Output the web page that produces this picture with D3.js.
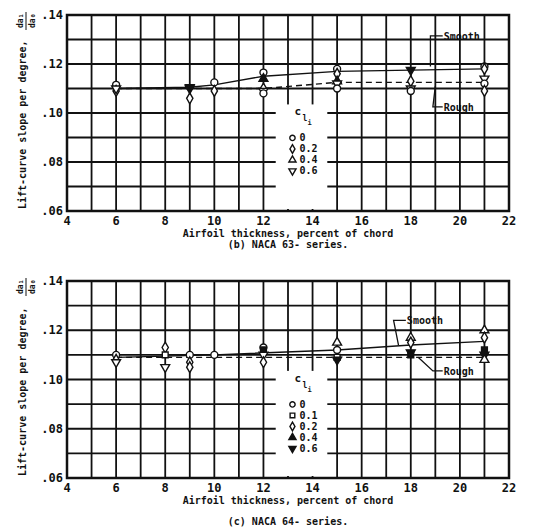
<!DOCTYPE html>
<html><head><meta charset="utf-8">
<script src="https://cdn.jsdelivr.net/npm/d3@7"></script>
<style>body{margin:0;background:#fff}text{font-family:"DejaVu Sans Mono",monospace;font-weight:bold;fill:#111}</style>
</head><body>
<script>
var xTicks = [4, 6, 8, 10, 12, 14, 16, 18, 20, 22];
var yTicks = [0.06, 0.08, 0.10, 0.12, 0.14];
var yTickLabels = [".06", ".08", ".10", ".12", ".14"];

// 63-series points: [thickness, slope, symbol]
var pts63 = [
  [6,.1115,"o"],[6,.109,"d"],[6,.110,"v"],
  [9,.106,"d"],[9,.110,"v"],[9,.1105,"V"],
  [10,.1125,"o"],[10,.109,"d"],
  [12,.1165,"o"],[12,.114,"A"],[12,.110,"d"],[12,.109,"v"],[12,.108,"o"],
  [15,.118,"o"],[15,.116,"d"],[15,.113,"A"],[15,.112,"v"],[15,.110,"o"],
  [18,.1175,"V"],[18,.113,"d"],[18,.110,"v"],[18,.109,"o"],
  [21,.119,"o"],[21,.118,"d"],[21,.114,"v"],[21,.112,"o"],[21,.109,"d"]
];
var smooth63 = [[6,.110],[9,.1105],[10,.1115],[12,.115],[15,.117],[18,.1175],[21,.118]];
var rough63 = [[6,.110],[12,.110],[15,.1125],[18,.1125],[21,.1125]];
var legend63 = ["0", "0.2", "0.4", "0.6"];
var legSym63 = ["o", "d", "a", "v"];

// 64-series points
var pts64 = [
  [6,.110,"o"],[6,.108,"d"],[6,.107,"v"],
  [8,.113,"d"],[8,.110,"s"],[8,.105,"v"],
  [9,.110,"o"],[9,.107,"d"],[9,.105,"d"],
  [10,.110,"o"],
  [12,.113,"o"],[12,.112,"S"],[12,.110,"v"],[12,.107,"d"],
  [15,.115,"a"],[15,.112,"o"],[15,.109,"s"],[15,.108,"V"],
  [18,.117,"a"],[18,.115,"d"],[18,.111,"V"],[18,.110,"S"],
  [21,.120,"a"],[21,.117,"d"],[21,.112,"S"],[21,.110,"V"],[21,.108,"a"]
];
var smooth64 = [[6,.109],[10,.110],[15,.112],[18,.114],[21,.1155]];
var rough64 = [[6,.109],[21,.109]];
var legend64 = ["0", "0.1", "0.2", "0.4", "0.6"];
var legSym64 = ["o", "s", "d", "A", "V"];

var svg = d3.select("body").append("svg").attr("width", 540).attr("height", 531);
var x = d3.scaleLinear().domain([4, 22]).range([67, 509]);

function symbol(g, sx, sy, s, sz) {
  var filled = s === s.toUpperCase() && s !== "o";
  var t = s.toLowerCase();
  var type = {o: d3.symbolCircle, d: d3.symbolDiamond, s: d3.symbolSquare, a: d3.symbolTriangle, v: d3.symbolTriangle}[t];
  g.append("path").attr("d", d3.symbol().type(type).size(sz || (t === "o" ? 38 : 34))())
    .attr("transform", "translate(" + sx + "," + sy + ")" + (t === "v" ? " rotate(180)" : ""))
    .attr("fill", filled ? "#111" : "#fff").attr("stroke", "#111").attr("stroke-width", 1.4);
}

function panel(top, bottom, pts, smooth, rough, leg, legSym, caption, smoothLab, roughLab) {
  var y = d3.scaleLinear().domain([0.06, 0.14]).range([bottom, top]);
  var g = svg.append("g");
  d3.range(5, 22).forEach(function (v) {
    g.append("line").attr("x1", x(v)).attr("x2", x(v)).attr("y1", top).attr("y2", bottom)
      .attr("stroke", "#111").attr("stroke-width", 1.8);
  });
  d3.range(0.07, 0.1399, 0.01).forEach(function (v) {
    g.append("line").attr("x1", x(4)).attr("x2", x(22)).attr("y1", y(v)).attr("y2", y(v))
      .attr("stroke", "#111").attr("stroke-width", 1.8);
  });
  g.append("rect").attr("x", x(12.5)).attr("y", y(0.1035)).attr("width", x(14.6) - x(12.5))
    .attr("height", y(0.06) - y(0.1035) - 2).attr("fill", "#fff");
  g.append("rect").attr("x", x(4)).attr("y", top).attr("width", x(22) - x(4)).attr("height", bottom - top)
    .attr("fill", "none").attr("stroke", "#111").attr("stroke-width", 2.5);
  g.selectAll(".xt").data(xTicks).enter().append("text").attr("x", function (d) { return x(d); })
    .attr("y", bottom + 14).attr("text-anchor", "middle").attr("font-size", 12)
    .text(function (d) { return d; });
  g.selectAll(".yt").data(yTicks).enter().append("text").attr("x", x(4) - 4)
    .attr("y", function (d) { return y(d) + 4; }).attr("text-anchor", "end").attr("font-size", 12)
    .text(function (d, i) { return yTickLabels[i]; });
  g.append("text").attr("x", 288).attr("y", bottom + 26).attr("text-anchor", "middle").attr("font-size", 10)
    .text(caption[0]);
  g.append("text").attr("x", 288).attr("y", bottom + caption[2]).attr("text-anchor", "middle").attr("font-size", 10)
    .text(caption[1]);
  g.append("text").attr("transform", "translate(26," + (bottom - 2) + ") rotate(-90)").attr("font-size", 10)
    .text("Lift-curve slope per degree,");
  g.append("text").attr("transform", "translate(23," + (top + 13) + ") rotate(-90)").attr("font-size", 8)
    .text("da\u2081");
  g.append("line").attr("x1", 26).attr("x2", 26).attr("y1", top - 3).attr("y2", top + 15).attr("stroke", "#111");
  g.append("text").attr("transform", "translate(35," + (top + 13) + ") rotate(-90)").attr("font-size", 8)
    .text("da\u2080");
  var line = d3.line().x(function (d) { return x(d[0]); }).y(function (d) { return y(d[1]); });
  g.append("path").attr("d", line(smooth)).attr("fill", "none").attr("stroke", "#111").attr("stroke-width", 1.4);
  g.append("path").attr("d", line(rough)).attr("fill", "none").attr("stroke", "#111").attr("stroke-width", 1.4)
    .attr("stroke-dasharray", "6,4");
  pts.forEach(function (p) { symbol(g, x(p[0]), y(p[1]), p[2]); });
  g.append("path").attr("d", "M" + x(smoothLab[2]) + "," + y(smoothLab[3]) + "L" + x(smoothLab[0] - 0.5) + "," + y(smoothLab[1]) + "L" + x(smoothLab[0]) + "," + y(smoothLab[1]))
    .attr("fill", "none").attr("stroke", "#111").attr("stroke-width", 1.3);
  g.append("text").attr("x", x(smoothLab[0]) + 1).attr("y", y(smoothLab[1]) + 4).attr("font-size", 10).text("Smooth");
  g.append("path").attr("d", "M" + x(roughLab[2]) + "," + y(roughLab[3]) + "L" + x(roughLab[0] - 0.4) + "," + y(roughLab[1]) + "L" + x(roughLab[0]) + "," + y(roughLab[1]))
    .attr("fill", "none").attr("stroke", "#111").attr("stroke-width", 1.3);
  g.append("text").attr("x", x(roughLab[0]) + 1).attr("y", y(roughLab[1]) + 4).attr("font-size", 10).text("Rough");
  // legend
  var lx = x(13.1), ly = y(0.099);
  g.append("text").attr("x", lx + 4).attr("y", ly).attr("font-size", 11).text("c");
  g.append("text").attr("x", lx + 12).attr("y", ly + 6).attr("font-size", 8).text("l");
  g.append("text").attr("x", lx + 17).attr("y", ly + 10).attr("font-size", 7).text("i");
  leg.forEach(function (l, i) {
    var yy = ly + 26 + i * 11;
    symbol(g, lx + 2, yy - 3.5, legSym[i], 22);
    g.append("text").attr("x", lx + 9).attr("y", yy).attr("font-size", 10).text(l);
  });
}

panel(15, 211, pts63, smooth63, rough63, legend63, legSym63,
  ["Airfoil thickness, percent of chord", "(b)  NACA 63- series.", 37], [19.3, .1315, 18.8, .119], [19.3, .1025, 19, .111]);
panel(281, 478, pts64, smooth64, rough64, legend64, legSym64,
  ["Airfoil thickness, percent of chord", "(c)  NACA 64- series.", 47], [17.8, .124, 17.5, .114], [19.3, .1035, 18.3, .109]);
</script>
</body></html>
